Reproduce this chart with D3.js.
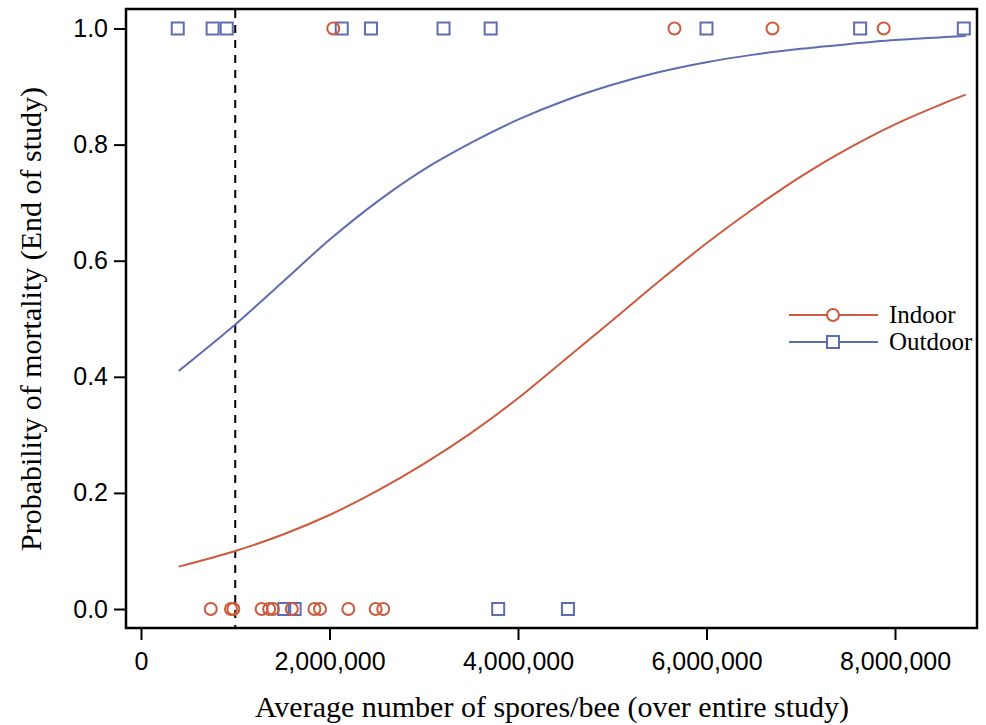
<!DOCTYPE html>
<html lang="en">

<head>
  <meta charset="UTF-8">
  <script src="https://d3js.org/d3.v7.min.js"></script>
  <style>
    body {
      margin: 0;
      background: #fff;
    }

    .tick text {
      font-family: "Liberation Sans", Arial, sans-serif;
      font-size: 25px;
      fill: #000;
    }

    .title {
      font-family: "Liberation Serif", "Times New Roman", serif;
      font-size: 30px;
      fill: #000;
    }

    .legend text {
      font-family: "Liberation Serif", "Times New Roman", serif;
      font-size: 25px;
      fill: #000;
    }
  </style>
  <title>Probability of mortality</title>
</head>

<body>

  <svg id="chart" width="986" height="725"></svg>

  <script>

    // Fitted curves (spores/bee -> probability)
    var curve_x = [400000, 1000000, 1500000, 2000000, 2500000, 3000000, 3500000, 4000000, 4500000,
      5000000, 5500000, 6000000, 6500000, 7000000, 7500000, 8000000, 8500000, 8750000];
    var indoor_fit = [0.073, 0.100, 0.128, 0.162, 0.203, 0.250, 0.303, 0.363, 0.430,
      0.497, 0.565, 0.630, 0.690, 0.745, 0.793, 0.835, 0.870, 0.886];
    var outdoor_fit = [0.410, 0.490, 0.563, 0.636, 0.701, 0.757, 0.803, 0.843, 0.876,
      0.903, 0.925, 0.942, 0.955, 0.965, 0.973, 0.980, 0.985, 0.987];

    // Observed colonies: spores/bee and outcome (0 = alive, 1 = dead)
    var indoor_x = [740000, 955000, 980000, 1280000, 1360000, 1400000, 1600000, 1840000, 1900000,
      2200000, 2490000, 2570000, 2040000, 5660000, 6700000, 7880000];
    var indoor_y = [0, 0, 0, 0, 0, 0, 0, 0, 0, 0, 0, 0, 1, 1, 1, 1];
    var outdoor_x = [1520000, 1630000, 3790000, 4530000, 390000, 760000, 910000, 2130000, 2440000,
      3210000, 3710000, 6000000, 7630000, 8730000];
    var outdoor_y = [0, 0, 0, 0, 1, 1, 1, 1, 1, 1, 1, 1, 1, 1];

    var x_ticks = [0, 2000000, 4000000, 6000000, 8000000];
    var y_ticks = [0, 0.2, 0.4, 0.6, 0.8, 1.0];
    var cutoff = 1000000;

    var red = "#cd5a3c", blue = "#5e6cb0";

    var svg = d3.select("#chart");

    var x = d3.scaleLinear().domain([-159000, 8870000]).range([126, 977]);
    var y = d3.scaleLinear().domain([-0.0327, 1.0336]).range([628, 9]);

    // frame
    svg.append("rect")
      .attr("x", 126).attr("y", 9)
      .attr("width", 977 - 126).attr("height", 628 - 9)
      .style("fill", "none").style("stroke", "#000").style("stroke-width", 2.5);

    // axes
    var xAxis = svg.append("g")
      .attr("transform", "translate(0,628)")
      .call(d3.axisBottom(x).tickValues(x_ticks).tickSize(12).tickPadding(12)
        .tickFormat(d3.format(",")));
    var yAxis = svg.append("g")
      .attr("transform", "translate(126,0)")
      .call(d3.axisLeft(y).tickValues(y_ticks).tickSize(12).tickPadding(6)
        .tickFormat(d3.format(".1f")));

    [xAxis, yAxis].forEach(function (a) {
      a.select(".domain").remove();
      a.selectAll(".tick line").style("stroke", "#000").style("stroke-width", 2);
    });

    // 1,000,000 cutoff
    svg.append("line")
      .attr("x1", x(cutoff)).attr("x2", x(cutoff))
      .attr("y1", 10).attr("y2", 627)
      .style("stroke", "#000").style("stroke-width", 2)
      .style("stroke-dasharray", "8,7");

    // fitted curves
    var line = d3.line()
      .x(function (d) { return x(d[0]); })
      .y(function (d) { return y(d[1]); })
      .curve(d3.curveCatmullRom);

    svg.append("path")
      .datum(curve_x.map(function (v, i) { return [v, outdoor_fit[i]]; }))
      .attr("d", line)
      .style("fill", "none").style("stroke", blue).style("stroke-width", 2);

    svg.append("path")
      .datum(curve_x.map(function (v, i) { return [v, indoor_fit[i]]; }))
      .attr("d", line)
      .style("fill", "none").style("stroke", red).style("stroke-width", 2);

    // observed points
    var sq = 12;
    svg.selectAll("rect.outdoor")
      .data(outdoor_x)
      .enter().append("rect")
      .attr("class", "outdoor")
      .attr("x", function (d) { return x(d) - sq / 2; })
      .attr("y", function (d, i) { return y(outdoor_y[i]) - sq / 2; })
      .attr("width", sq).attr("height", sq)
      .style("fill", "none").style("stroke", blue).style("stroke-width", 2);

    svg.selectAll("circle.indoor")
      .data(indoor_x)
      .enter().append("circle")
      .attr("class", "indoor")
      .attr("cx", function (d) { return x(d); })
      .attr("cy", function (d, i) { return y(indoor_y[i]); })
      .attr("r", 6)
      .style("fill", "none").style("stroke", red).style("stroke-width", 2);

    // legend
    var legend_labels = ["Indoor", "Outdoor"];
    var legend_colors = [red, blue];
    var legend = svg.selectAll("g.legend")
      .data(legend_labels)
      .enter().append("g")
      .attr("class", "legend")
      .attr("transform", function (d, i) { return "translate(0," + (315 + i * 27) + ")"; });

    legend.append("line")
      .attr("x1", 789).attr("x2", 878)
      .style("stroke", function (d, i) { return legend_colors[i]; })
      .style("stroke-width", 2);

    legend.each(function (d, i) {
      var g = d3.select(this);
      if (i === 0) {
        g.append("circle").attr("cx", 833).attr("r", 6)
          .style("fill", "#fff").style("stroke", red).style("stroke-width", 2);
      } else {
        g.append("rect").attr("x", 833 - sq / 2).attr("y", -sq / 2)
          .attr("width", sq).attr("height", sq)
          .style("fill", "#fff").style("stroke", blue).style("stroke-width", 2);
      }
    });

    legend.append("text")
      .attr("x", 889).attr("y", 8)
      .text(function (d) { return d; });

    // axis titles
    svg.append("text")
      .attr("class", "title")
      .attr("x", 552).attr("y", 717)
      .attr("text-anchor", "middle")
      .text("Average number of spores/bee (over entire study)");

    svg.append("text")
      .attr("class", "title")
      .attr("transform", "translate(41,319) rotate(-90)")
      .attr("text-anchor", "middle")
      .text("Probability of mortality (End of study)");

  </script>

</body>

</html>
